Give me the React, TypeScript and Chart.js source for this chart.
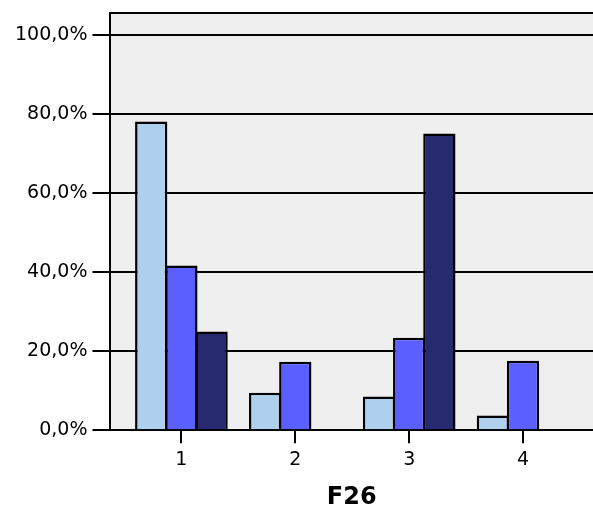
import React, { useEffect, useRef } from "react";
import { Chart, registerables } from "chart.js";

Chart.register(...registerables);

const categories = [1, 2, 3, 4];
const seriesA = [78.1, 9.5, 8.5, 3.7];
const seriesB = [41.7, 17.3, 23.4, 17.6];
const seriesC = [25.0, 0, 75.1, 0];
const yTicks = [0, 20, 40, 60, 80, 100];
const xTitle = "F26";

const framePlugin = {
  id: "frame",
  beforeDraw(chart: any) {
    const { ctx, chartArea } = chart;
    ctx.save();
    ctx.fillStyle = "#efefef";
    ctx.fillRect(chartArea.left, chartArea.top, chartArea.right - chartArea.left, chartArea.bottom - chartArea.top);
    ctx.restore();
  },
  afterDraw(chart: any) {
    const { ctx, chartArea } = chart;
    ctx.save();
    ctx.strokeStyle = "#000";
    ctx.lineWidth = 2;
    ctx.beginPath();
    ctx.moveTo(chartArea.left, chartArea.top);
    ctx.lineTo(chartArea.right, chartArea.top);
    ctx.stroke();
    ctx.restore();
  },
};

export default function App() {
  const ref = useRef<HTMLCanvasElement>(null);
  useEffect(() => {
    if (!ref.current) return;
    const mk = (vals: number[]) => categories.map((c, i) => ({ x: c, y: vals[i] }));
    const common = {
      borderColor: "#000",
      borderWidth: 2.5,
      barPercentage: 1.07,
      categoryPercentage: 0.795,
      inflateAmount: 0,
    };
    const chart = new Chart(ref.current, {
      type: "bar",
      data: {
        datasets: [
          { label: "A", data: mk(seriesA), backgroundColor: "#aed0ee", ...common },
          { label: "B", data: mk(seriesB), backgroundColor: "#5b5fff", ...common },
          { label: "C", data: mk(seriesC), backgroundColor: "#282a70", ...common },
        ] as any,
      },
      plugins: [framePlugin],
      options: {
        animation: false,
        responsive: false,
        layout: { padding: { top: 13, right: 0, bottom: -5, left: 10 } },
        plugins: { legend: { display: false }, tooltip: { enabled: false } },
        scales: {
          x: {
            type: "linear",
            min: 0.377,
            max: 4.614,
            offset: false,
            afterBuildTicks: (axis: any) => {
              axis.ticks = categories.map((v) => ({ value: v }));
            },
            grid: { offset: false, drawOnChartArea: false, drawTicks: true, tickLength: 13, color: "#000", lineWidth: 2 },
            border: { display: true, color: "#000", width: 2 },
            ticks: {
              color: "#000",
              font: { family: "DejaVu Sans", size: 19 },
              padding: 5,
              maxRotation: 0,
              callback: (v: any) => String(v),
            },
            title: {
              display: true,
              text: xTitle,
              color: "#000",
              font: { family: "DejaVu Sans", size: 24, weight: "bold", lineHeight: 1 },
              padding: { top: 10, bottom: 1 },
            },
          },
          y: {
            min: 0,
            max: 105.57,
            afterBuildTicks: (axis: any) => {
              axis.ticks = yTicks.map((v) => ({ value: v }));
            },
            grid: { color: "#000", lineWidth: 2, tickLength: 18, drawTicks: true },
            border: { display: true, color: "#000", width: 2 },
            ticks: {
              color: "#000",
              padding: 5,
              font: { family: "DejaVu Sans", size: 19, lineHeight: 0.8 },
              callback: (v: any) => Number(v).toFixed(1).replace(".", ",") + "%",
            },
          },
        },
      },
    });
    return () => chart.destroy();
  }, []);
  return (
    <div style={{ position: "absolute", left: 0, top: 0, width: 593, height: 506, background: "#fff" }}>
      <canvas ref={ref} width={593} height={506} style={{ display: "block" }} />
    </div>
  );
}
